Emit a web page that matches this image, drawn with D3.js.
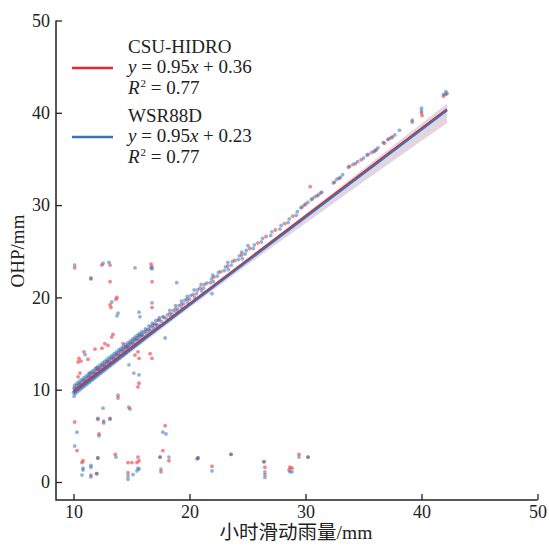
<!DOCTYPE html>
<html>
<head>
<meta charset="utf-8">
<script src="https://cdn.jsdelivr.net/npm/d3@7"></script>
<style>
	body { margin: 0; background: #fff; }
</style>
</head>
<body>
<div class="chart"></div>
<script>
// Axis ticks
var xTicks = [10, 20, 30, 40, 50];
var yTicks = [0, 10, 20, 30, 40, 50];

// Series names and fit text
var seriesNames = ['CSU-HIDRO', 'WSR88D'];
var fitSlopes = ['0.95', '0.95'];
var fitIntercepts = ['0.36', '0.23'];
var fitR2 = ['0.77', '0.77'];

// Fitted lines (x, y) over the data range
var fitRed = [[10, 9.86], [42.2, 40.45]];
var fitBlue = [[10, 9.73], [42.2, 40.32]];

// Confidence band (x, upper, lower)
var bandX = [10, 15, 20, 25, 30, 35, 40, 42.2];
var bandUpper = [10.03, 14.68, 19.38, 24.18, 29.03, 33.93, 38.83, 41.02];
var bandLower = [9.23, 14.08, 18.88, 23.53, 28.03, 32.53, 36.98, 38.87];

// WSR88D points near the fit
var blueBand = [
	[10.0,9.7],[10.05,10.2],[10.2,9.9],[10.25,10.4],[10.4,10.1],[10.45,10.6],[10.6,10.3],[10.65,10.8],
	[10.8,10.5],[10.85,11.0],[11.0,10.7],[11.05,11.2],[11.2,10.9],[11.25,11.4],[11.4,11.1],[11.45,11.6],
	[11.6,11.3],[11.65,11.8],[11.8,11.5],[11.85,12.0],[12.0,11.7],[12.05,12.2],[12.2,11.9],[12.25,12.4],
	[12.4,12.1],[12.45,12.6],[12.6,12.3],[12.65,12.8],[12.8,12.5],[12.85,13.0],[13.0,12.7],[13.05,13.2],
	[13.2,12.9],[13.25,13.4],[13.4,13.1],[13.45,13.6],[13.6,13.3],[13.65,13.8],[13.8,13.5],[13.85,14.0],
	[14.0,13.7],[14.05,14.2],[14.2,13.9],[14.25,14.4],[14.4,14.1],[14.45,14.6],[14.6,14.3],[14.65,14.8],
	[14.8,14.5],[14.85,15.0],[15.0,14.7],[15.05,15.2],[15.2,14.9],[15.25,15.4],[15.4,15.1],[15.45,15.6],
	[15.6,15.3],[15.65,15.8],[15.8,15.5],[15.85,16.0],[16.0,15.8],[16.05,16.2],[16.3,16.1],[16.35,16.5],
	[16.6,16.4],[16.65,16.8],[16.9,16.7],[16.95,17.1],[17.2,17.0],[17.3,17.5],[17.6,17.4],[17.7,17.9],
	[10.1,10.5],[10.15,9.6],[10.3,10.7],[10.35,9.8],[10.5,10.9],[10.55,10.0],[10.7,11.1],[10.75,10.2],
	[10.9,11.3],[10.95,10.4],[11.1,11.5],[11.15,10.6],[11.3,11.7],[11.35,10.8],[11.5,11.9],[11.55,11.0],
	[11.7,12.1],[11.75,11.2],[11.9,12.3],[11.95,11.4],[12.1,12.5],[12.15,11.6],[12.3,12.7],[12.35,11.8],
	[12.5,12.9],[12.55,12.0],[12.7,13.1],[12.75,12.2],[12.9,13.3],[12.95,12.4],[13.1,13.5],[13.15,12.6],
	[13.3,13.7],[13.35,12.8],[13.5,13.9],[13.55,13.0],[13.7,14.1],[13.75,13.2],[13.9,14.3],[13.95,13.4],
	[14.1,14.5],[14.15,13.6],[14.3,14.7],[14.35,13.8],[14.5,14.9],[14.55,14.0],[14.7,15.1],[14.75,14.2],
	[14.9,15.3],[14.95,14.4],[15.1,15.5],[15.15,14.6],[15.3,15.7],[15.35,14.8],[15.5,15.9],[15.55,15.0],
	[15.7,16.1],[15.75,15.2],[15.9,16.3],[15.95,15.4],[16.2,16.6],[16.25,15.8],[16.5,16.9],[16.55,16.1],
	[16.8,17.2],[16.85,16.4],[17.1,17.5],[17.15,16.7],[17.4,17.8],[17.45,17.0],
	[18.0,17.7],[18.1,18.1],[18.3,18.6],[18.35,17.9],[18.5,18.2],[18.6,18.6],[18.8,19.1],[18.85,18.4],
	[19.0,18.7],[19.1,19.1],[19.3,19.6],[19.35,18.9],[19.5,19.3],[19.6,19.7],[19.8,20.1],[19.85,19.4],
	[20.0,19.8],[20.1,20.2],[20.4,20.8],[20.45,20.0],[20.6,20.4],[20.7,20.8],[21.0,21.4],[21.05,20.7],
	[21.2,21.0],[21.3,21.4],[21.8,21.6],[21.9,22.0],[22.0,22.4],[22.05,21.7],
	[22.4,22.3],[22.5,22.7],[23.0,22.9],[23.1,23.3],[23.3,23.8],[23.35,23.0],[23.6,23.5],[23.7,23.9],
	[24.2,24.1],[24.3,24.5],[24.5,24.9],[24.55,24.2],
	[24.8,24.7],[24.9,25.1],[25.5,25.3],[25.6,25.7],[26.2,26.0],[26.3,26.4],[27.0,26.7],[27.1,27.1],
	[27.8,27.4],[27.9,27.8],[28.5,28.1],[28.6,28.5],[29.2,28.9],[29.3,29.3],
	[29.6,29.7],[29.9,30.0],[30.2,30.3],[30.5,30.6],[30.8,30.9],[31.1,31.1],[31.4,31.4],
	[32.4,32.4],[32.7,32.8],[33.0,33.0],[33.2,33.3],[33.7,34.1],[34.1,34.4],[34.5,34.7],[35.0,35.1],
	[35.3,35.4],[35.7,35.7],[36.0,35.9],[36.25,36.2],[36.7,36.8],[37.1,37.1],[37.4,37.3],[37.7,37.6],
	[38.1,38.1],[39.2,39.2],[40.0,40.2],[40.0,40.5],[41.9,42.0],[42.1,42.3],[42.2,42.1]
];

// CSU-HIDRO points near the fit
var redBand = [
	[10.1,10.1],[10.3,10.2],[10.5,10.55],[10.7,10.6],[10.9,10.95],[11.1,11.0],[11.3,11.35],[11.5,11.4],
	[11.7,11.75],[11.9,11.8],[12.1,12.2],[12.3,12.25],[12.5,12.6],[12.7,12.65],[12.9,13.0],[13.1,13.05],
	[13.3,13.4],[13.5,13.45],[13.7,13.8],[13.9,13.85],[14.1,14.2],[14.3,14.3],[14.5,14.6],[14.7,14.7],
	[14.9,15.0],[15.1,15.1],[15.3,15.45],[15.5,15.5],[15.7,15.85],[15.9,15.9],[16.2,16.35],[16.5,16.5],
	[16.8,16.95],[17.1,17.1],[17.4,17.6],[17.8,17.85],[18.3,18.25],[18.8,18.75],[19.3,19.25],[19.8,19.8],
	[20.3,20.3],[20.9,21.0],[21.5,21.55],[22.1,22.2],[22.7,22.8],[23.3,23.4],[23.9,24.0],[24.5,24.6],
	[25.2,25.3],[25.9,25.9],[26.6,26.6],[27.4,27.3],[28.2,28.0],[28.9,28.8],
	[29.7,29.8],[30.0,30.1],[30.6,30.7],[31.0,31.0],[31.3,31.3],[32.5,32.5],[32.9,32.9],[33.8,34.2],
	[34.3,34.5],[34.8,34.9],[35.4,35.5],[35.9,35.8],[36.1,36.0],[36.8,36.7],[37.2,37.2],[37.5,37.4],
	[39.2,39.0],[40.0,40.0],[40.05,39.7],[41.9,41.8],[42.1,42.0]
];

// CSU-HIDRO points away from the fit
var redOut = [
	[10.1,23.2],[12.45,23.5],[13.15,23.5],[13.15,21.7],[16.68,23.6],[16.77,23.3],[16.77,21.7],[11.5,22.0],
	[13.75,20.0],[13.66,19.8],[13.15,19.2],[13.23,18.9],[16.77,18.9],
	[13.4,16.0],[13.3,15.7],[12.97,14.8],[12.7,15.0],[12.45,14.5],[11.85,14.4],[10.9,14.1],
	[10.47,13.4],[10.65,13.1],[10.4,13.0],[11.25,13.3],[14.27,15.0],[14.6,14.6],[10.56,11.8],[10.4,11.4],
	[11.4,11.8],[12.0,12.35],[15.3,13.75],[15.56,14.1],[16.6,13.9],[16.77,13.4],[15.65,13.4],
	[15.65,10.7],[15.56,10.3],[13.84,9.1],
	[14.78,8.1],[12.1,6.8],[12.6,6.4],[13.15,6.9],[10.1,6.5],[12.2,5.2],[17.9,6.1],[10.3,3.4],[17.7,3.4],
	[13.6,3.0],[10.82,2.3],[10.73,2.1],[12.1,2.6],[14.7,2.1],[15.04,2.1],[15.47,2.1],[15.65,2.3],[15.56,2.7],
	[14.7,1.0],[11.5,0.75],[12.0,0.9],[17.46,2.7],[17.54,1.1],[18.23,2.3],
	[20.73,2.6],[21.94,1.7],[23.58,3.0],[26.42,2.2],[26.5,1.6],[26.5,0.8],[28.66,1.6],[28.84,1.5],[28.58,1.3],
	[29.44,3.0],[30.22,2.7],[30.4,32.0]
];

// WSR88D points away from the fit
var blueOut = [
	[10.1,23.5],[12.55,23.7],[13.06,23.8],[11.5,22.1],[15.3,23.2],[16.77,23.1],[16.68,23.2],
	[13.3,19.5],[13.84,18.3],[13.75,18.0],[16.77,19.4],[15.65,18.4],[15.73,17.9],
	[11.0,13.8],[14.78,12.7],[15.2,11.8],[15.65,11.6],[17.9,15.6],[18.9,21.6],[21.94,20.4],[25.04,25.6],
	[13.84,9.4],[10.05,9.3],
	[12.55,8.0],[14.87,7.9],[12.1,6.9],[12.6,6.6],[13.15,6.8],[10.3,5.4],[12.2,5.0],[17.7,5.4],[17.97,5.2],
	[10.1,3.9],[13.66,2.7],[12.1,2.6],[15.56,1.5],[15.47,1.2],[15.65,1.4],[15.13,0.8],[14.7,0.65],[14.7,0.3],
	[10.82,1.5],[10.82,1.3],[11.5,1.8],[11.5,1.6],[10.73,0.75],[11.5,0.55],[12.0,0.9],[17.46,2.7],[17.54,1.4],
	[18.23,2.7],[20.65,2.5],[20.73,2.6],[21.94,1.2],[23.58,3.0],[26.42,2.2],[26.5,1.1],[26.5,0.5],
	[28.66,1.1],[28.84,1.1],[29.44,2.7],[30.22,2.7]
];

var red = '#e8262b',
	blue = '#3675b8',
	bandColor = 'rgba(150, 105, 145, 0.28)',
	axisColor = '#222',
	fontFamily = '"Liberation Serif", "Times New Roman", "Noto Sans CJK SC", serif';

var width = 549, height = 546;
var axisLeftX = 56, axisBottomY = 500;
var x = d3.scaleLinear().domain([10, 50]).range([73.5, 537.5]);
var y = d3.scaleLinear().domain([0, 50]).range([482, 20.5]);

var svg = d3.select('.chart').append('svg')
	.attr('width', width)
	.attr('height', height)
	.attr('font-family', fontFamily)
	.attr('fill', axisColor);

// Scatter: red first, blue on top
function dots(data, color) {
	svg.append('g').selectAll('circle')
		.data(data)
		.enter().append('circle')
		.attr('cx', function(d) { return x(d[0]); })
		.attr('cy', function(d) { return y(d[1]); })
		.attr('r', 1.9)
		.attr('fill', color)
		.attr('fill-opacity', 0.55);
}
dots(redOut, red);
dots(redBand, red);
dots(blueOut, blue);
dots(blueBand, blue);

// Confidence band
var band = bandX.map(function(v, i) { return [v, bandUpper[i], bandLower[i]]; });
svg.append('path')
	.datum(band)
	.attr('fill', bandColor)
	.attr('d', d3.area()
		.x(function(d) { return x(d[0]); })
		.y0(function(d) { return y(d[2]); })
		.y1(function(d) { return y(d[1]); }));

// Fitted lines
var line = d3.line()
	.x(function(d) { return x(d[0]); })
	.y(function(d) { return y(d[1]); });
svg.append('path').datum(fitBlue)
	.attr('fill', 'none').attr('stroke', blue).attr('stroke-width', 3).attr('d', line);
svg.append('path').datum(fitRed)
	.attr('fill', 'none').attr('stroke', red).attr('stroke-width', 1.1).attr('d', line);

// Axes
var xAxis = svg.append('g')
	.attr('transform', 'translate(0,' + axisBottomY + ')')
	.call(d3.axisBottom(x).tickValues(xTicks).tickSize(-6).tickPadding(5));
var yAxis = svg.append('g')
	.attr('transform', 'translate(' + axisLeftX + ',0)')
	.call(d3.axisLeft(y).tickValues(yTicks).tickSize(-6).tickPadding(6));
[xAxis, yAxis].forEach(function(a) {
	a.select('.domain').remove();
	a.selectAll('line').attr('stroke', axisColor).attr('stroke-width', 1.3);
	a.selectAll('text').attr('fill', axisColor).attr('font-size', '18px').attr('font-family', fontFamily);
});
svg.append('path')
	.attr('d', 'M' + axisLeftX + ',' + y(50) + 'V' + axisBottomY + 'H' + x(50))
	.attr('fill', 'none')
	.attr('stroke', axisColor)
	.attr('stroke-width', 1.5);

// Axis titles
svg.append('text')
	.attr('x', 296)
	.attr('y', 539)
	.attr('text-anchor', 'middle')
	.attr('font-size', '19.5px')
	.text('小时滑动雨量/mm');
svg.append('text')
	.attr('transform', 'translate(24,251) rotate(-90)')
	.attr('text-anchor', 'middle')
	.attr('font-size', '19px')
	.text('OHP/mm');

// Legend
var legendColors = [red, blue];
var legendTop = [53, 122];
seriesNames.forEach(function(name, i) {
	var top = legendTop[i];
	svg.append('line')
		.attr('x1', 72).attr('x2', 113)
		.attr('y1', top + 15).attr('y2', top + 15)
		.attr('stroke', legendColors[i])
		.attr('stroke-width', 2.5);
	svg.append('text').attr('font-size', '19px')
		.attr('x', 128).attr('y', top).text(name);
	var eq = svg.append('text').attr('font-size', '19px').attr('x', 128).attr('y', top + 20);
	eq.append('tspan').attr('font-style', 'italic').text('y');
	eq.append('tspan').text(' = ' + fitSlopes[i]);
	eq.append('tspan').attr('font-style', 'italic').text('x');
	eq.append('tspan').text(' + ' + fitIntercepts[i]);
	var r2 = svg.append('text').attr('font-size', '19px').attr('x', 128).attr('y', top + 41);
	r2.append('tspan').attr('font-style', 'italic').text('R');
	r2.append('tspan').attr('font-size', '11px').attr('dy', -7).attr('dx', 1).text('2');
	r2.append('tspan').attr('dy', 7).text(' = ' + fitR2[i]);
});
</script>
</body>
</html>
